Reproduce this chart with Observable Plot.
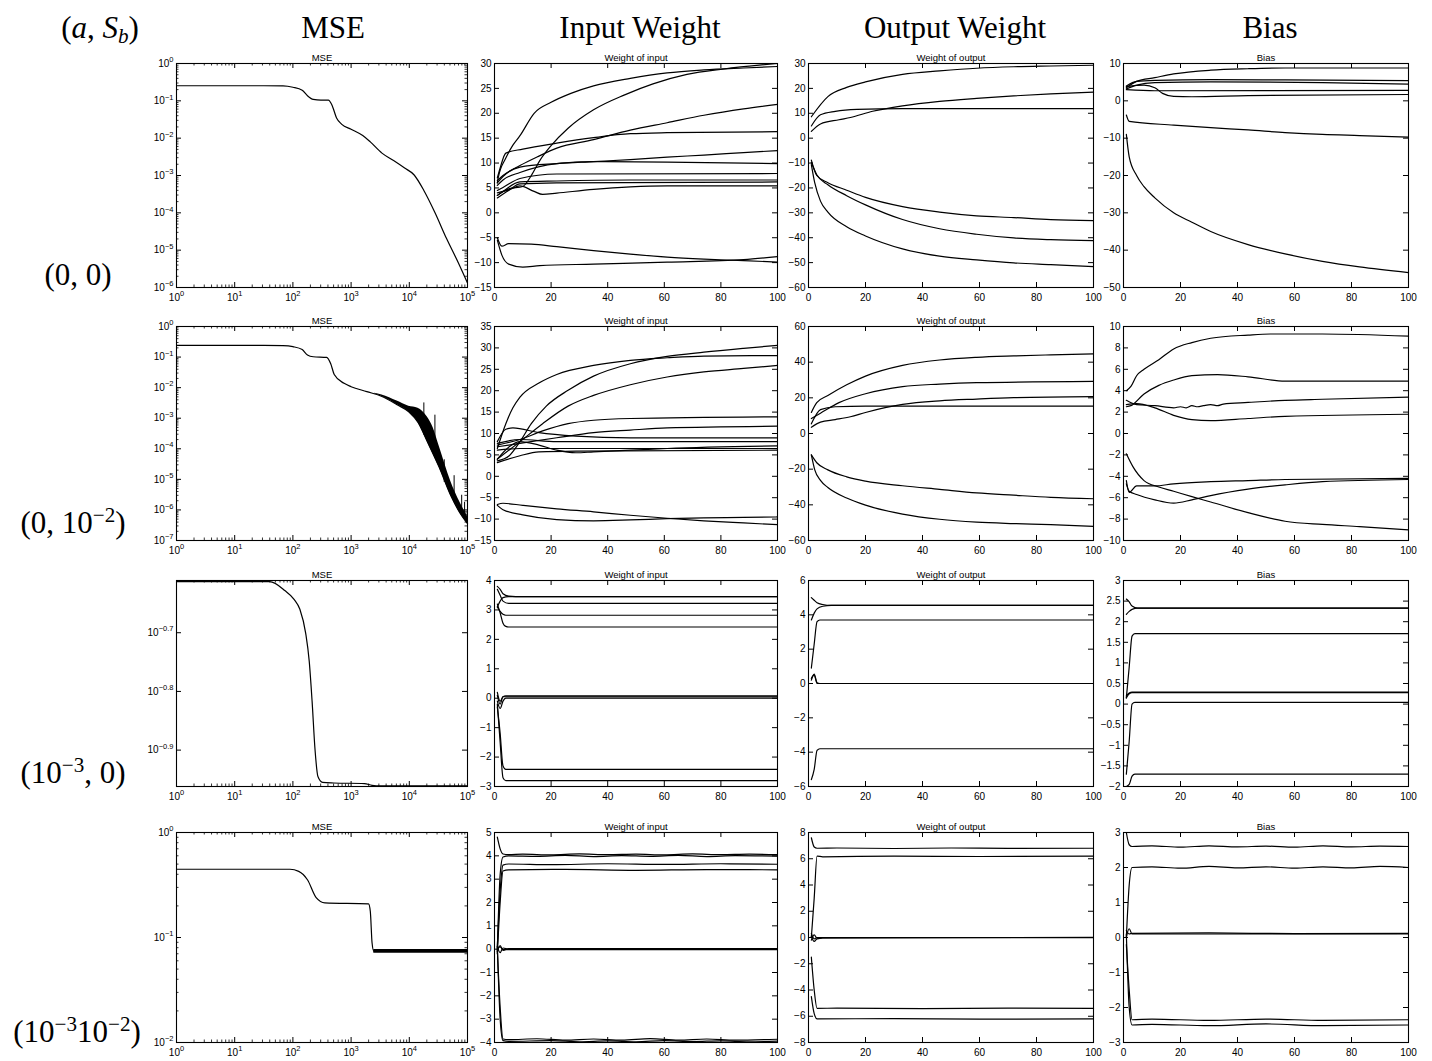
<!DOCTYPE html>
<html>
<head>
<meta charset="utf-8">
<script src="https://cdn.jsdelivr.net/npm/d3@7"></script>
<script src="https://cdn.jsdelivr.net/npm/@observablehq/plot@0.6"></script>
<style>
  body { margin: 0; background: #fff; }
  #fig { position: relative; width: 1432px; height: 1061px; overflow: hidden; background: #fff; }
  .hdr { position: absolute; font-family: "Liberation Serif", "Times New Roman", serif; font-size: 31px;
         color: #000; transform: translate(-50%, -50%); white-space: nowrap; line-height: 1; }
  .hdr sup { font-size: 0.68em; vertical-align: 0.5em; line-height: 0; }
  .hdr sub { font-size: 0.68em; vertical-align: -0.25em; line-height: 0; }
  .panel { position: absolute; }
</style>
</head>
<body>
<div id="fig"></div>
<script>
// ---------- column / row captions ----------
const columnTitles = ["MSE", "Input Weight", "Output Weight", "Bias"];
const rowTitles = ["(0, 0)", "(0, 10<sup>−2</sup>)", "(10<sup>−3</sup>, 0)", "(10<sup>−3</sup>10<sup>−2</sup>)"];
const panelTitles = ["MSE", "Weight of input", "Weight of output", "Bias"];

// ---------- MSE curves (log10 of epoch, log10 of MSE) ----------
const mseRow1 = [[0,-0.596],[1.5,-0.596],[1.83,-0.6],[2.0,-0.636],[2.16,-0.715],[2.25,-0.864],[2.35,-0.963],[2.48,-0.983],
  [2.61,-0.983],[2.67,-1.11],[2.75,-1.46],[2.84,-1.63],[3.0,-1.76],[3.2,-1.93],[3.33,-2.1],[3.53,-2.4],[3.73,-2.6],
  [3.92,-2.8],[4.08,-2.98],[4.25,-3.4],[4.44,-3.99],[4.64,-4.69],[4.84,-5.33],[5,-5.88]];
const mseRow2 = [[0,-0.616],[1.5,-0.616],[1.83,-0.625],[2.0,-0.66],[2.16,-0.755],[2.25,-0.93],[2.35,-0.99],[2.58,-1.01],
  [2.65,-1.22],[2.71,-1.57],[2.88,-1.86],[3.0,-1.97],[3.27,-2.13],[3.53,-2.29],[3.79,-2.56],[3.99,-2.79],[4.15,-3.14],
  [4.31,-3.77],[4.51,-4.59],[4.71,-5.52],[4.87,-6.1],[5,-6.45]];
// oscillation band of the noisy run: [log10 epoch, low, high]
const mseRow2Band = [[3.4,-2.2,-2.18],[3.53,-2.29,-2.24],[3.79,-2.56,-2.44],[3.99,-2.79,-2.61],[4.15,-3.14,-2.67],
  [4.31,-3.77,-2.96],[4.41,-4.18,-3.31],[4.51,-4.59,-3.89],[4.71,-5.52,-5.05],[4.87,-6.1,-5.75],[5,-6.45,-6.21]];
const mseRow2Spikes = [[4.25,-3.55,-2.5],[4.44,-4.3,-2.9],[4.6,-5.1,-4.36],[4.77,-5.7,-4.88],[4.9,-6.15,-5.52],[4.95,-6.3,-5.75]];
const mseRow3 = [[0,-0.613],[1.6,-0.613],[1.86,-0.628],[2.02,-0.643],[2.12,-0.66],[2.22,-0.701],[2.28,-0.748],[2.33,-0.817],
  [2.38,-0.899],[2.43,-0.945],[2.51,-0.955],[2.7,-0.956],[3.23,-0.957],[3.36,-0.96],[3.5,-0.961],[5,-0.961]];
const mseRow4 = [[0,-0.35],[1.95,-0.35],[2.1,-0.37],[2.25,-0.45],[2.4,-0.62],[2.55,-0.67],[3.3,-0.68],[3.33,-0.75],
  [3.36,-1.05],[3.39,-1.13],[5,-1.13]];
const mseRow4Band = [[3.39,-1.15,-1.115],[5,-1.15,-1.115]];

// ---------- weight / bias trajectories: [iteration, value] ----------
const inputRow1 = [
  [[1,6],[1.3,7],[4,11],[6.5,13.6],[9,15.5],[14,20],[20,22.2],[27,24],[35,25.5],[48,27],[61,28.1],[74,28.7],[88,29.1],[100,29.4]],
  [[1,3.5],[5,4.8],[10,5.3],[13,7.5],[16,10.5],[20,13.5],[26,17],[35,20.7],[46,23.7],[56,25.9],[68,27.8],[81,28.9],[100,30]],
  [[1,6.5],[3,7.5],[9,9.5],[15,11.2],[22,13],[35,14.7],[48,16.6],[61,18.1],[74,19.6],[88,20.9],[100,21.8]],
  [[1,7],[2,9],[4,12],[10,12.8],[22,14],[35,15.1],[48,15.9],[61,16.1],[100,16.3]],
  [[1,6],[3,7.3],[9,9.2],[22,9.9],[35,10.3],[48,10.7],[61,11.2],[74,11.6],[88,12.1],[100,12.5]],
  [[1,5.5],[3,6.6],[9,8.1],[22,9.9],[35,10.3],[61,10.2],[100,9.9]],
  [[1,4.5],[3,5.1],[9,6.9],[22,7.8],[100,7.9]],
  [[1,3.5],[3,4.3],[9,6.2],[22,6.4],[48,6.6],[100,6.6]],
  [[1,4],[5,4.6],[9,5.4],[14,4.3],[17,3.7],[22,3.96],[35,4.7],[48,5.2],[61,5.4],[100,5.4]],
  [[1,3],[5,4.5],[9,5.8],[22,6],[100,6.2]],
  [[1,-5],[2.6,-6.7],[5,-6.2],[13,-6.3],[22,-6.8],[35,-7.6],[48,-8.3],[61,-8.9],[74,-9.3],[88,-9.6],[100,-9.9]],
  [[1,-5.5],[2.6,-8.5],[5,-10.3],[10,-10.9],[16,-10.6],[35,-10.3],[61,-9.9],[88,-9.4],[100,-8.8]]
];
const outputRow1 = [
  [[1,8.6],[6.8,16.7],[13.4,20.4],[20,22.6],[33,25.6],[46,27],[59,28.1],[72,28.7],[85,29],[100,29.3]],
  [[1,4.9],[4.2,9.4],[9.4,10.8],[17,11.6],[33,11.9],[100,11.9]],
  [[1,2.7],[4.2,5.7],[10.7,7.4],[14.7,8.3],[22.5,10.8],[33,13],[46,14.8],[59,16],[72,17],[85,17.8],[100,18.5]],
  [[1,-8.8],[2.9,-15],[6.8,-17.9],[13.4,-20.9],[20,-23.8],[33,-27.5],[46,-29.7],[59,-31.2],[72,-31.9],[85,-32.7],[100,-33.1]],
  [[1,-9.8],[2.9,-14.7],[6.8,-18.7],[13.4,-23.1],[20,-26.8],[33,-32.7],[46,-36.4],[59,-38.6],[72,-40.1],[85,-40.8],[100,-41.2]],
  [[1,-10.6],[2.2,-18],[4.2,-25.3],[6.8,-29.7],[13.4,-35.6],[20,-39.3],[33,-44.5],[46,-47.4],[59,-48.9],[72,-50.1],[85,-50.8],[100,-51.6]]
];
const biasRow1 = [
  [[1,3.5],[4.6,5.2],[11,6.2],[17.6,7.2],[30.6,8.2],[43.7,8.6],[56.7,8.8],[100,8.8]],
  [[1,4],[4.6,5.2],[11,5.5],[30.6,5.7],[56.7,5.6],[100,5.4]],
  [[1,3.2],[4.6,4.2],[11,4.9],[30.6,5.1],[69.8,4.9],[100,4.5]],
  [[1,3],[11,2.7],[100,2.8]],
  [[1,3.8],[7.2,4.2],[11,3.5],[13.7,2],[17.6,1.2],[24,1.1],[43.7,1.4],[100,1.7]],
  [[1,-3.8],[2,-5.5],[17.6,-6.5],[30.6,-7.2],[43.7,-7.8],[56.7,-8.5],[69.8,-9],[82.8,-9.3],[100,-9.7]],
  [[1,-9],[2,-15],[4.6,-20],[7.2,-23],[11,-26],[17.6,-30],[24,-32.5],[30.6,-35],[43.7,-38.5],[56.7,-41],[69.8,-43],[82.8,-44.5],[100,-46]]
];
const inputRow2 = [
  [[1,6.5],[4,12.3],[6.5,16],[9,18.5],[15.7,21.8],[22,23.8],[35,25.9],[48,27.1],[61,27.7],[74,28.1],[100,28.2]],
  [[1,3.6],[5.2,4.8],[9,8.1],[13,12.3],[18.3,16.4],[26,20.1],[35,23.4],[48,26.3],[61,28],[74,29],[88,29.9],[100,30.6]],
  [[1,4],[9,8.1],[17,12.3],[26,16.4],[35,18.9],[48,21.4],[61,23.2],[74,24.4],[88,25.2],[100,25.9]],
  [[1,7.3],[9,8.6],[17,10.6],[26,12.3],[35,13.1],[48,13.5],[100,13.9]],
  [[1,6.9],[9,7.7],[22,9],[35,10.2],[48,10.8],[61,11.3],[100,11.7]],
  [[1,8.1],[4,11],[6.5,11.3],[15.7,10.2],[28.8,9.4],[48,9],[100,9]],
  [[1,7.7],[9,8.6],[22,8.1],[100,8.1]],
  [[1,4],[5.2,6.9],[9,8.1],[15.7,7.3],[22,6.1],[28.8,5.5],[35,5.7],[48,6.1],[61,6.5],[100,7.1]],
  [[1,6.1],[9,6.5],[100,6.5]],
  [[1,3.2],[9,4.8],[15.7,5.7],[28.8,5.9],[100,6.1]],
  [[1,-6.6],[3,-6.3],[10,-6.8],[22,-7.6],[35,-8.3],[48,-9.1],[61,-9.8],[74,-10.4],[88,-10.9],[100,-11.3]],
  [[1,-6.8],[3,-7.8],[10,-9],[22,-10.1],[35,-10.4],[48,-10.2],[61,-9.9],[74,-9.7],[88,-9.6],[100,-9.5]]
];
const outputRow2 = [
  [[1,11.8],[2.9,17.3],[6.8,21.3],[13.4,27.3],[20,32.2],[33,38.2],[46,41.2],[59,42.7],[72,43.5],[85,44.1],[100,44.7]],
  [[1,8.4],[4.2,11.4],[10.7,17.3],[20,22.3],[33,26.3],[46,27.7],[59,28.5],[100,29.2]],
  [[1,5.4],[4.2,13.4],[9.4,15],[20,15.4],[100,15.4]],
  [[1,3.5],[4.2,6.4],[9.4,7.8],[14.7,9.4],[20,11.8],[33,16.3],[46,18.3],[59,19.3],[72,20.1],[100,20.7]],
  [[1,-12],[2.9,-16.4],[6.8,-20.4],[13.4,-24.3],[20,-26.7],[33,-29.3],[46,-31.3],[59,-33.3],[72,-34.6],[85,-35.8],[100,-36.6]],
  [[1,-12],[2.2,-20.4],[4.2,-26.3],[6.8,-30.3],[13.4,-36.2],[20,-40.2],[33,-45.2],[46,-48.1],[59,-49.7],[72,-50.5],[85,-51.1],[100,-52.1]]
];
const biasRow2 = [
  [[1,4],[2.6,4.4],[4.6,5.4],[7.2,6],[12.4,6.9],[17.6,7.9],[24,8.5],[30.6,8.9],[43.7,9.2],[51.5,9.3],[69.8,9.3],[100,9.1]],
  [[1,2.5],[2.6,2.6],[7.2,3.7],[12.4,4.5],[17.6,5],[24,5.4],[33,5.5],[43.7,5.3],[56.7,4.9],[69.8,4.9],[100,4.9]],
  [[1,3.1],[4.6,2.7],[11,2.6],[17.6,2.4],[20,2.5],[22,2.4],[24,2.6],[26,2.5],[28,2.6],[30.6,2.7],[33,2.6],[35,2.75],[43.7,2.9],[56.7,3.1],[69.8,3.2],[100,3.4]],
  [[1,2.7],[4.6,2.8],[11,2.4],[17.6,1.7],[24,1.3],[30.6,1.2],[43.7,1.4],[56.7,1.6],[100,1.8]],
  [[1,-4.4],[2,-5.5],[4.6,-4.9],[11,-4.9],[17.6,-4.7],[30.6,-4.5],[43.7,-4.4],[56.7,-4.3],[100,-4.2]],
  [[1,-4.7],[2,-5.4],[4.6,-5.7],[11,-6.2],[17.6,-6.5],[24,-6.2],[30.6,-5.8],[43.7,-5.2],[56.7,-4.8],[69.8,-4.5],[100,-4.3]],
  [[1,-1.9],[3.3,-3.1],[7.2,-4.4],[12.4,-5],[17.6,-5.4],[24,-5.9],[30.6,-6.4],[43.7,-7.4],[56.7,-8.2],[69.8,-8.5],[82.8,-8.7],[100,-9]]
];
const inputRow3 = [
  [[1,3.8],[2,3.7],[3,3.55],[5,3.47],[10,3.45],[100,3.45]],
  [[1,3.7],[2,3.5],[3,3.3],[5,3.22],[100,3.22]],
  [[1,3.1],[2,3.3],[3,3.42],[5,3.45],[100,3.45]],
  [[1,3.1],[2,2.95],[3,2.85],[4,2.82],[100,2.82]],
  [[1,3.2],[2,2.9],[3,2.55],[4,2.44],[5,2.42],[100,2.42]],
  [[1,0.2],[2,-0.1],[3,0.05],[4,0.08],[100,0.08]],
  [[1,-0.1],[2,-0.35],[3,-0.1],[4,0],[100,0]],
  [[1,0.1],[2,-0.2],[3,0.05],[4,0.05],[100,0.05]],
  [[1,-0.3],[2,-1.2],[3,-2.3],[4,-2.42],[100,-2.42]],
  [[1,-0.2],[2,-1.5],[3,-2.7],[4,-2.8],[100,-2.8]]
];
const outputRow3 = [
  [[1,5.0],[2,4.85],[3,4.7],[5,4.6],[8,4.55],[100,4.55]],
  [[1,3.7],[2,4.1],[3,4.35],[5,4.5],[8,4.55],[100,4.55]],
  [[1,0.9],[2,2.3],[3,3.6],[4,3.7],[100,3.7]],
  [[1,0.2],[2,0.55],[3,0.05],[4,0],[100,0]],
  [[1,0.3],[2,0.5],[3,0.0],[100,0]],
  [[1,-5.6],[2,-5.0],[3,-3.9],[4,-3.8],[100,-3.8]]
];
const biasRow3 = [
  [[1,2.55],[2,2.48],[3,2.38],[5,2.33],[100,2.33]],
  [[1,2.18],[2,2.25],[3,2.3],[5,2.33],[100,2.33]],
  [[1,0.15],[2,0.9],[3,1.65],[4,1.71],[100,1.71]],
  [[1,0.15],[2,0.25],[3,0.28],[100,0.28]],
  [[1,0.2],[2,0.27],[3,0.29],[100,0.29]],
  [[1,-1.7],[2,-0.9],[3,0.0],[4,0.04],[100,0.04]],
  [[1,-2.0],[2,-1.95],[3,-1.75],[4,-1.7],[100,-1.7]]
];
const inputRow4 = [
  [[1,4.8],[2,4.3],[3,4.08],[5,4.05],[10,4.07],[20,4.04],[30,4.08],[40,4.05],[50,4.07],[60,4.04],[70,4.08],[80,4.05],[90,4.07],[100,4.05]],
  [[1,0],[2,3.2],[3,3.95],[5,4.0],[15,3.98],[25,4.02],[35,3.97],[45,4.01],[55,3.98],[65,4.02],[75,3.97],[85,4.01],[100,3.99]],
  [[1,0.1],[2,2.5],[3,3.6],[5,3.65],[20,3.62],[40,3.66],[60,3.63],[80,3.66],[100,3.64]],
  [[1,-0.2],[2,2.0],[3,3.35],[5,3.4],[25,3.42],[50,3.38],[75,3.41],[100,3.4]],
  [[1,0.1],[2,-0.15],[3,0.05],[5,0],[100,0]],
  [[1,-0.1],[2,0.15],[3,-0.05],[5,0.02],[100,0.02]],
  [[1,0.05],[2,0.1],[3,-0.02],[100,-0.02]],
  [[1,0],[2,-2.5],[3,-3.85],[5,-3.88],[15,-3.84],[25,-3.9],[35,-3.85],[45,-3.9],[55,-3.83],[65,-3.9],[75,-3.85],[85,-3.9],[100,-3.86]],
  [[1,0.1],[2,-3.0],[3,-3.92],[5,-3.95],[20,-3.92],[30,-3.97],[40,-3.93],[50,-3.97],[60,-3.92],[70,-3.96],[80,-3.93],[90,-3.97],[100,-3.94]]
];
const outputRow4 = [
  [[1,7.6],[2,6.9],[3,6.8],[10,6.82],[30,6.78],[50,6.82],[70,6.79],[100,6.8]],
  [[1,0],[2,3],[3,6.2],[5,6.15],[30,6.2],[60,6.17],[100,6.2]],
  [[1,0.3],[2,-0.1],[3,0],[100,0]],
  [[1,-0.2],[2,0.2],[3,-0.05],[5,0],[100,-0.02]],
  [[1,0.1],[2,-0.3],[3,-0.1],[5,-0.05],[100,0.02]],
  [[1,-1.5],[2,-4],[3,-5.4],[10,-5.38],[40,-5.42],[70,-5.38],[100,-5.4]],
  [[1,-4.5],[2,-5.8],[3,-6.2],[30,-6.18],[60,-6.22],[100,-6.2]]
];
const biasRow4 = [
  [[1,3],[2,2.65],[3,2.6],[10,2.62],[20,2.58],[30,2.62],[40,2.59],[50,2.61],[60,2.58],[70,2.62],[80,2.59],[90,2.61],[100,2.6]],
  [[1,0],[2,1.5],[3,2.0],[10,2.02],[20,1.98],[30,2.03],[40,1.99],[50,2.02],[60,1.98],[70,2.02],[80,1.99],[90,2.03],[100,2.0]],
  [[1,0.2],[2,0.1],[3,0.12],[30,0.13],[60,0.11],[100,0.12]],
  [[1,0],[2,0.25],[3,0.1],[100,0.1]],
  [[1,-0.2],[2,-1.5],[3,-2.35],[10,-2.33],[30,-2.37],[50,-2.33],[70,-2.37],[100,-2.35]],
  [[1,0.1],[2,-2.0],[3,-2.5],[10,-2.48],[30,-2.52],[50,-2.47],[70,-2.52],[100,-2.5]]
];

// ---------- axis ranges and tick values ----------
const mseYExp = [[-6, 0], [-7, 0], [-0.962, -0.611], [-2, 0]];
const mseYTickExp = [[-6,-5,-4,-3,-2,-1,0], [-7,-6,-5,-4,-3,-2,-1,0], [-0.9,-0.8,-0.7], [-2,-1,0]];
const inputDomains = [[-15, 30], [-15, 35], [-3, 4], [-4, 5]];
const inputSteps = [5, 5, 1, 1];
const outputDomains = [[-60, 30], [-60, 60], [-6, 6], [-8, 8]];
const outputSteps = [10, 20, 2, 2];
const biasDomains = [[-50, 10], [-10, 10], [-2, 3], [-3, 3]];
const biasSteps = [10, 2, 0.5, 1];

// ---------- page layout (plot frame boxes, px) ----------
const frameLeft = [176, 494, 808, 1123], frameRight = [467, 777, 1093, 1408];
const frameTop = [63, 326, 580, 832], frameBottom = [287, 540, 786, 1042];

const fig = document.getElementById("fig");

function caption(html, x, y) {
  const d = document.createElement("div");
  d.className = "hdr";
  d.innerHTML = html;
  d.style.left = x + "px";
  d.style.top = y + "px";
  fig.appendChild(d);
}
caption("(<i>a</i>, <i>S</i><sub><i>b</i></sub>)", 100, 27);
const headerX = [333, 640, 955, 1270];
columnTitles.forEach((t, i) => caption(t, headerX[i], 27));
const rowLabelX = [78, 73, 73, 77], rowLabelY = [274, 522, 772, 1031];
rowTitles.forEach((t, i) => caption(t, rowLabelX[i], rowLabelY[i]));

const fmtNum = d => {
  const s = String(+d.toFixed(2));
  return d < 0 ? "−" + s.slice(1) : s;
};
const fmtPow = d => {
  const e = Math.round(Math.log10(d) * 10) / 10;
  return "10^" + (e < 0 ? "−" + String(-e) : String(e));
};
const range = (a, b, s) => d3.range(Math.round((b - a) / s) + 1).map(i => +(a + i * s).toFixed(6));
function minorLog(lo, hi) {
  const out = [];
  for (let k = Math.floor(Math.log10(lo)); k < Math.ceil(Math.log10(hi)); k++)
    for (let m = 2; m <= 9; m++) { const v = m * 10 ** k; if (v > lo && v < hi) out.push(v); }
  return out;
}
const toRows = (series) => series.flatMap((s, i) => s.map(([x, y]) => ({id: i, x, y})));

function panel({row, col, xLog, yLog, yDomain, yTicks, yMinor, marks}) {
  const mL = 44, mR = 14, mT = 18, mB = 22;
  const W = frameRight[col] - frameLeft[col], H = frameBottom[row] - frameTop[row];
  const xDomain = xLog ? [1, 1e5] : [0, 100];
  const xTicks = xLog ? [1, 10, 100, 1e3, 1e4, 1e5] : [0, 20, 40, 60, 80, 100];
  const xMinor = xLog ? minorLog(1, 1e5) : [];
  const tick = 5, minor = 2.5;
  const svg = Plot.plot({
    width: W + mL + mR, height: H + mT + mB,
    marginLeft: mL, marginRight: mR, marginTop: mT, marginBottom: mB,
    style: {fontFamily: '"Liberation Sans", Arial, Helvetica, sans-serif', fontSize: "10px", background: "transparent", color: "#000", overflow: "visible"},
    x: {type: xLog ? "log" : "linear", domain: xDomain},
    y: {type: yLog ? "log" : "linear", domain: yDomain},
    marks: [
      ...marks,
      Plot.frame({stroke: "#000", strokeWidth: 1.1}),
      Plot.tickX(xTicks, {x: d => d, insetTop: H - tick, stroke: "#000"}),
      Plot.tickX(xTicks, {x: d => d, insetBottom: H - tick, stroke: "#000"}),
      Plot.tickX(xMinor, {x: d => d, insetTop: H - minor, stroke: "#000", strokeWidth: 0.8}),
      Plot.tickX(xMinor, {x: d => d, insetBottom: H - minor, stroke: "#000", strokeWidth: 0.8}),
      Plot.tickY(yTicks, {y: d => d, insetLeft: W - tick, stroke: "#000"}),
      Plot.tickY(yTicks, {y: d => d, insetRight: W - tick, stroke: "#000"}),
      Plot.tickY(yMinor, {y: d => d, insetLeft: W - minor, stroke: "#000", strokeWidth: 0.8}),
      Plot.tickY(yMinor, {y: d => d, insetRight: W - minor, stroke: "#000", strokeWidth: 0.8}),
      Plot.axisX({ticks: xTicks, tickSize: 0, tickPadding: 6, label: null, tickFormat: xLog ? fmtPow : fmtNum}),
      Plot.axisY({ticks: yTicks, tickSize: 0, tickPadding: 3, label: null, tickFormat: yLog ? fmtPow : fmtNum}),
      Plot.text([panelTitles[col]], {frameAnchor: "top", lineAnchor: "bottom", dy: -3, text: d => d, fontSize: 9.5})
    ]
  });
  // turn "10^e" labels into a base with a raised exponent
  svg.querySelectorAll("text").forEach(t => {
    const s = t.textContent;
    if (!s.includes("^")) return;
    const [base, exp] = s.split("^");
    t.textContent = base;
    const sup = document.createElementNS("http://www.w3.org/2000/svg", "tspan");
    sup.setAttribute("dy", "-4.5");
    sup.setAttribute("font-size", "7.5");
    sup.textContent = exp;
    t.appendChild(sup);
  });
  svg.classList.add("panel");
  svg.style.left = (frameLeft[col] - mL) + "px";
  svg.style.top = (frameTop[row] - mT) + "px";
  fig.appendChild(svg);
}

const lineOpts = {x: "x", y: "y", z: "id", curve: "monotone-x", stroke: "#000", strokeWidth: 1.2};
const pow = ([x, y]) => ({x: 10 ** x, y: 10 ** y});

// ---------- MSE column ----------
const mseCurves = [mseRow1, mseRow2, mseRow3, mseRow4];
mseCurves.forEach((curve, r) => {
  const [lo, hi] = mseYExp[r];
  const marks = [];
  if (r === 1) {
    marks.push(Plot.areaY(mseRow2Band, {x: d => 10 ** d[0], y1: d => 10 ** d[1], y2: d => 10 ** d[2], curve: "monotone-x", fill: "#000"}));
    marks.push(Plot.ruleX(mseRow2Spikes, {x: d => 10 ** d[0], y1: d => 10 ** d[1], y2: d => 10 ** d[2], stroke: "#000", strokeWidth: 1}));
  }
  if (r === 3) {
    marks.push(Plot.areaY(mseRow4Band, {x: d => 10 ** d[0], y1: d => 10 ** d[1], y2: d => 10 ** d[2], fill: "#000"}));
  }
  marks.push(Plot.line(curve.map(pow), {x: "x", y: "y", curve: "monotone-x", stroke: "#000", strokeWidth: 1.2}));
  panel({
    row: r, col: 0, xLog: true, yLog: true,
    yDomain: [10 ** lo, 10 ** hi],
    yTicks: mseYTickExp[r].map(e => 10 ** e),
    yMinor: r === 2 ? [] : minorLog(10 ** lo, 10 ** hi),
    marks
  });
});

// ---------- weight and bias columns ----------
const trajectories = [
  [inputRow1, inputRow2, inputRow3, inputRow4],
  [outputRow1, outputRow2, outputRow3, outputRow4],
  [biasRow1, biasRow2, biasRow3, biasRow4]
];
const domains = [inputDomains, outputDomains, biasDomains];
const steps = [inputSteps, outputSteps, biasSteps];
trajectories.forEach((rows, c) => {
  rows.forEach((series, r) => {
    const [lo, hi] = domains[c][r];
    panel({
      row: r, col: c + 1, xLog: false, yLog: false,
      yDomain: [lo, hi],
      yTicks: range(lo, hi, steps[c][r]),
      yMinor: [],
      marks: [Plot.line(toRows(series), lineOpts)]
    });
  });
});
</script>
</body>
</html>
